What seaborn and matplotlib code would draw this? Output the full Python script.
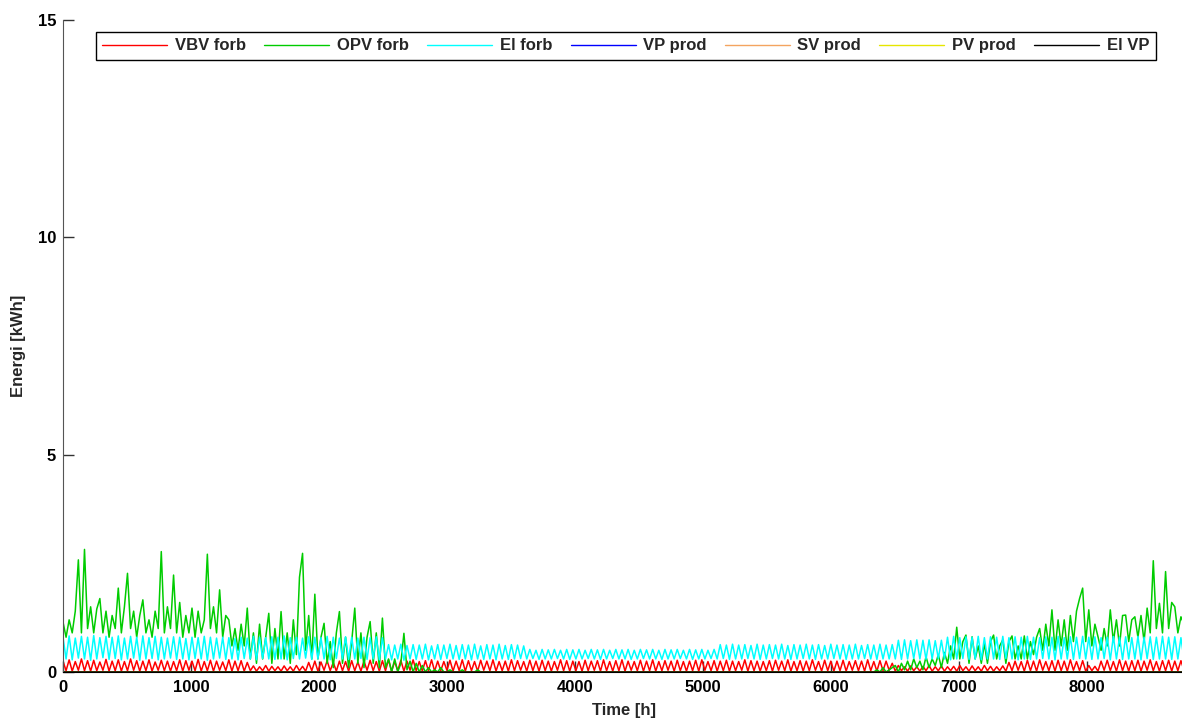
import numpy as np
import pandas as pd
import seaborn as sns
import matplotlib
matplotlib.use('Agg')
import matplotlib.pyplot as plt

# one reading per day (every 24 h)
hours = np.arange(0, 8761, 24)

# OPV forb (green) - heating
opv_forb = [
    1.15, 0.8, 1.2, 0.9, 1.4, 2.58, 0.9, 2.82, 1.0, 1.5, 0.9, 1.45,
    1.69, 0.9, 1.4, 0.8, 1.3, 1.0, 1.93, 0.9, 1.5, 2.27, 1.0, 1.4,
    0.8, 1.3, 1.66, 0.9, 1.2, 0.8, 1.4, 1.0, 2.77, 0.9, 1.5, 1.0,
    2.23, 0.9, 1.6, 0.8, 1.3, 0.9, 1.47, 0.8, 1.4, 0.9, 1.2, 2.71,
    1.0, 1.5, 0.9, 1.89, 0.8, 1.3, 1.2, 0.6, 1.0, 0.5, 1.1, 0.6,
    1.47, 0.3, 0.9, 0.2, 1.1, 0.3, 0.8, 1.35, 0.2, 1.0, 0.3, 1.39,
    0.3, 0.9, 0.2, 1.2, 0.4, 2.18, 2.73, 0.5, 1.3, 0.3, 1.79, 0.3,
    0.8, 1.12, 0.2, 0.7, 0.1, 0.9, 1.39, 0.2, 0.8, 0.1, 0.7, 1.47,
    0.2, 0.9, 0.1, 0.8, 1.16, 0.2, 0.9, 0.1, 1.24, 0.1, 0.3, 0.0,
    0.3, 0.0, 0.2, 0.89, 0.05, 0.25, 0.0, 0.2, 0.0, 0.15, 0.0, 0.1,
    # summer: heating off
    0.0, 0.05, 0.0, 0.1, 0.0, 0.0, 0.05, 0.0, 0.0, 0.0, 0.05, 0.0,
    0.0, 0.0, 0.0, 0.05, 0.0, 0.0, 0.0, 0.0, 0.0, 0.0, 0.0, 0.0,
    0.0, 0.0, 0.0, 0.0, 0.0, 0.0, 0.0, 0.0, 0.0, 0.0, 0.0, 0.0,
    0.0, 0.0, 0.0, 0.0, 0.0, 0.0, 0.0, 0.0, 0.0, 0.0, 0.0, 0.0,
    0.0, 0.0, 0.0, 0.0, 0.0, 0.0, 0.0, 0.0, 0.0, 0.0, 0.0, 0.0,
    0.0, 0.0, 0.0, 0.0, 0.0, 0.0, 0.0, 0.0, 0.0, 0.0, 0.0, 0.0,
    0.0, 0.0, 0.0, 0.0, 0.0, 0.0, 0.0, 0.0, 0.0, 0.0, 0.0, 0.0,
    0.0, 0.0, 0.0, 0.0, 0.0, 0.0, 0.0, 0.0, 0.0, 0.0, 0.0, 0.0,
    0.0, 0.0, 0.0, 0.0, 0.0, 0.0, 0.0, 0.0, 0.0, 0.0, 0.0, 0.0,
    0.0, 0.0, 0.0, 0.0, 0.0, 0.0, 0.0, 0.0, 0.0, 0.0, 0.0, 0.0,
    0.0, 0.0, 0.0, 0.0, 0.0, 0.0, 0.0, 0.0, 0.0, 0.0, 0.0, 0.0,
    0.0, 0.0, 0.0, 0.0, 0.0, 0.0, 0.0, 0.0, 0.0, 0.0, 0.0, 0.0,
    0.0, 0.05, 0.0, 0.1, 0.0, 0.05, 0.1,
    # autumn / early winter
    0.15, 0.0, 0.2, 0.05, 0.25,
    0.05, 0.3, 0.1, 0.25, 0.05, 0.35, 0.1, 0.3, 0.15, 0.4, 0.1, 0.45,
    0.2, 0.6, 0.3, 1.03, 0.3, 0.7, 0.85, 0.2, 0.81, 0.3, 0.6, 0.2,
    0.65, 0.2, 0.7, 0.85, 0.3, 0.6, 0.74, 0.2, 0.7, 0.83, 0.3, 0.6,
    0.3, 0.83, 0.3, 0.7, 0.4, 0.8, 1.0, 0.5, 1.1, 0.6, 1.43, 0.5,
    1.2, 0.6, 1.2, 0.5, 1.3, 0.7, 1.4, 1.69, 1.93, 0.7, 1.43, 0.6,
    1.1, 0.81, 0.5, 1.0, 0.6, 1.43, 0.7, 1.2, 0.6, 1.3, 1.31, 0.7,
    1.2, 1.27, 0.8, 1.3, 0.7, 1.47, 0.9, 2.56, 1.0, 1.58, 0.9, 2.31,
    1.0, 1.6, 1.5, 0.9, 1.27, 1.1,
]

# El forb (cyan)
el_forb = [
    0.8, 0.3, 0.83, 0.28, 0.78, 0.32, 0.82, 0.3, 0.8, 0.27, 0.84, 0.3,
    0.79, 0.33, 0.82, 0.29, 0.8, 0.31, 0.83, 0.28, 0.78, 0.3, 0.82, 0.32,
    0.8, 0.27, 0.83, 0.3, 0.79, 0.31, 0.82, 0.28, 0.8, 0.3, 0.78, 0.32,
    0.81, 0.29, 0.8, 0.3, 0.77, 0.28, 0.8, 0.31, 0.79, 0.3, 0.82, 0.27,
    0.8, 0.3, 0.78, 0.32, 0.8, 0.29, 0.79, 0.3, 0.77, 0.28, 0.8, 0.31,
    0.78, 0.3, 0.82, 0.28, 0.8, 0.31, 0.79, 0.3, 0.81, 0.29, 0.8, 0.3,
    0.83, 0.28, 0.79, 0.31, 0.8, 0.3, 0.78, 0.32, 0.81, 0.29, 0.8, 0.3,
    0.79, 0.3, 0.82, 0.28, 0.8, 0.31, 0.78, 0.3, 0.81, 0.29, 0.8, 0.3,
    0.78, 0.31, 0.8, 0.29, 0.79, 0.3, 0.81, 0.28, 0.79,
    0.3, 0.63, 0.28, 0.62, 0.3, 0.64, 0.27, 0.61, 0.3, 0.63, 0.29, 0.62,
    0.3, 0.64, 0.28, 0.6, 0.3, 0.63, 0.29, 0.62, 0.31, 0.64, 0.3, 0.61,
    0.29, 0.63, 0.3, 0.62, 0.28, 0.64, 0.3, 0.6, 0.29, 0.63, 0.3, 0.62,
    0.28, 0.64, 0.3, 0.61, 0.29, 0.63, 0.3, 0.62, 0.31, 0.6,
    0.3, 0.52, 0.31, 0.5, 0.29, 0.52, 0.3, 0.51, 0.3, 0.52, 0.31, 0.5,
    0.3, 0.52, 0.29, 0.51, 0.3, 0.52, 0.3, 0.5, 0.31, 0.52, 0.3, 0.51,
    0.29, 0.52, 0.3, 0.5, 0.31, 0.52, 0.3, 0.51, 0.3, 0.52, 0.29, 0.5,
    0.3, 0.52, 0.31, 0.51, 0.3, 0.52, 0.3, 0.5, 0.29, 0.52, 0.3, 0.51,
    0.3, 0.52, 0.31, 0.5, 0.3, 0.52, 0.29, 0.51, 0.3, 0.52, 0.3, 0.5,
    0.31, 0.52,
    0.3, 0.63, 0.31, 0.62, 0.29, 0.64, 0.3, 0.62, 0.3, 0.63, 0.31, 0.61,
    0.3, 0.64, 0.29, 0.62, 0.3, 0.63, 0.31, 0.62, 0.3, 0.64, 0.3, 0.61,
    0.29, 0.63, 0.3, 0.62, 0.31, 0.64, 0.3, 0.62, 0.29, 0.63, 0.3, 0.61,
    0.3, 0.64, 0.31, 0.62, 0.3, 0.63, 0.29, 0.62, 0.3, 0.64, 0.3, 0.61,
    0.31, 0.63, 0.3, 0.62, 0.29, 0.64, 0.3, 0.62, 0.3, 0.63,
    0.3, 0.73, 0.29, 0.74, 0.3, 0.72, 0.31, 0.74, 0.3, 0.73, 0.29, 0.74,
    0.3, 0.72, 0.31, 0.73, 0.3,
    0.8, 0.28, 0.82, 0.3, 0.79, 0.31, 0.81, 0.29, 0.8, 0.3, 0.82, 0.28,
    0.79, 0.3, 0.81, 0.3, 0.8, 0.29, 0.82, 0.31, 0.79, 0.3, 0.81, 0.28,
    0.8, 0.3, 0.82, 0.29, 0.8, 0.3, 0.79, 0.31, 0.81, 0.3, 0.8, 0.28,
    0.82, 0.3, 0.79, 0.3, 0.81, 0.29, 0.8, 0.31, 0.82, 0.3, 0.8, 0.29,
    0.81, 0.3, 0.79, 0.31, 0.8, 0.28, 0.82, 0.3, 0.8, 0.29, 0.81, 0.3,
    0.79, 0.3, 0.82, 0.28, 0.8, 0.31, 0.81, 0.29, 0.8, 0.3, 0.82, 0.3,
    0.8, 0.29, 0.81, 0.3, 0.79, 0.3,
]

# VBV forb (red) - hot water
vbv_forb = [
    0.25, 0.03, 0.28, 0.02, 0.24, 0.04, 0.3, 0.03, 0.26, 0.02, 0.27, 0.03,
    0.23, 0.04, 0.29, 0.02, 0.25, 0.03, 0.28, 0.02, 0.24, 0.03, 0.3, 0.04,
    0.26, 0.02, 0.25, 0.03, 0.28, 0.02, 0.23, 0.04, 0.27, 0.03, 0.25, 0.02,
    0.24, 0.03, 0.28, 0.02, 0.26, 0.04, 0.25, 0.03, 0.29, 0.02, 0.24, 0.03,
    0.27, 0.02, 0.25, 0.04, 0.23, 0.03, 0.28, 0.02, 0.25, 0.03, 0.26, 0.02,
    0.22, 0.03, 0.14, 0.02, 0.12, 0.03, 0.15, 0.02, 0.13, 0.03, 0.12, 0.02,
    0.14, 0.03, 0.12, 0.02, 0.15, 0.03, 0.13, 0.02, 0.22, 0.03, 0.25, 0.02,
    0.23, 0.04, 0.26, 0.03, 0.22, 0.02, 0.25, 0.03, 0.24, 0.02, 0.26, 0.03,
    0.23, 0.02, 0.25, 0.04, 0.27, 0.03, 0.24, 0.02, 0.26, 0.03, 0.28, 0.02,
    0.24, 0.03, 0.27, 0.02, 0.25, 0.04, 0.28, 0.03, 0.24, 0.02, 0.26, 0.03,
    0.28, 0.02, 0.25, 0.03, 0.24, 0.04, 0.27, 0.02, 0.25, 0.03, 0.28, 0.02,
    0.26, 0.03, 0.24, 0.02, 0.27, 0.04, 0.25, 0.03, 0.28, 0.02, 0.24, 0.03,
    0.25, 0.02, 0.28, 0.03, 0.26, 0.04, 0.24, 0.02, 0.27, 0.03, 0.25, 0.02,
    0.27, 0.03, 0.25, 0.02, 0.24, 0.04, 0.28, 0.03, 0.26, 0.02, 0.25, 0.03,
    0.24, 0.02, 0.27, 0.03, 0.25, 0.04, 0.26, 0.02, 0.28, 0.03, 0.24, 0.02,
    0.26, 0.03, 0.28, 0.02, 0.25, 0.04, 0.24, 0.03, 0.27, 0.02, 0.25, 0.03,
    0.28, 0.02, 0.24, 0.03, 0.26, 0.04, 0.25, 0.02, 0.27, 0.03, 0.24, 0.02,
    0.25, 0.03, 0.27, 0.02, 0.28, 0.04, 0.24, 0.03, 0.26, 0.02, 0.25, 0.03,
    0.27, 0.02, 0.25, 0.03, 0.24, 0.04, 0.28, 0.02, 0.26, 0.03, 0.25, 0.02,
    0.24, 0.03, 0.26, 0.02, 0.27, 0.04, 0.25, 0.03, 0.28, 0.02, 0.24, 0.03,
    0.26, 0.02, 0.25, 0.03, 0.28, 0.04, 0.24, 0.02, 0.27, 0.03, 0.25, 0.02,
    0.25, 0.03, 0.27, 0.02, 0.24, 0.04, 0.26, 0.03, 0.25, 0.02, 0.28, 0.03,
    0.24, 0.02, 0.26, 0.03, 0.25, 0.04, 0.2, 0.02, 0.15, 0.03, 0.12, 0.02,
    0.14, 0.03, 0.12, 0.02, 0.13, 0.03, 0.15, 0.02, 0.12, 0.03, 0.14, 0.02,
    0.12, 0.03, 0.13, 0.02, 0.15, 0.03, 0.12, 0.02, 0.14, 0.03, 0.12, 0.02,
    0.15, 0.03, 0.13, 0.02, 0.12, 0.03, 0.14, 0.02, 0.22, 0.03, 0.25, 0.04,
    0.24, 0.02, 0.27, 0.03, 0.25, 0.02, 0.28, 0.04, 0.24, 0.03, 0.26, 0.02,
    0.27, 0.03, 0.25, 0.02, 0.28, 0.04, 0.24, 0.03, 0.26, 0.02, 0.15, 0.03,
    0.13, 0.02, 0.25, 0.04, 0.27, 0.03, 0.24, 0.02, 0.28, 0.03, 0.25, 0.02,
    0.26, 0.03, 0.27, 0.02, 0.25, 0.04, 0.28, 0.03, 0.24, 0.02, 0.26, 0.03,
    0.27, 0.02, 0.25, 0.03, 0.26, 0.04,
]

# production series sit flat on zero in the picture
vp_prod = [0.0] * len(hours)
sv_prod = [0.0] * len(hours)
pv_prod = [0.0] * len(hours)
el_vp = [0.0] * len(hours)

navne = ['VBV forb', 'OPV forb', 'El forb', 'VP prod', 'SV prod', 'PV prod', 'El VP']
farver = ['#ff0000', '#00cc00', '#00ffff', '#0000ff', '#f4a460', '#e6e600', '#000000']
data = [vbv_forb, opv_forb, el_forb, vp_prod, sv_prod, pv_prod, el_vp]

sns.set_style('ticks')
plt.rcParams['font.family'] = ['Liberation Sans', 'DejaVu Sans']
plt.rcParams['font.weight'] = 'bold'

fig = plt.figure(figsize=(11.82, 7.22), dpi=100)
ax = fig.add_axes([63 / 1182, 50 / 722, 1121 / 1182, 652 / 722])

for navn, vals, farve in zip(navne, data, farver):
    sns.lineplot(x=hours, y=vals, color=farve, lw=1.1, label=navn, ax=ax,
                 estimator=None, sort=False)

ax.set_xlim(0, 8760)
ax.set_ylim(0, 15)
ax.set_xticks(range(0, 8001, 1000))
ax.set_yticks([0, 5, 10, 15])
ax.tick_params(direction='in', length=8, width=1, labelsize=12, colors='#333333')
ax.tick_params(axis='x', pad=6, labelcolor='black')
ax.tick_params(axis='y', pad=5, labelcolor='black')
for lab in ax.get_xticklabels() + ax.get_yticklabels():
    lab.set_fontweight('bold')

sns.despine(ax=ax)
ax.spines['left'].set_color('#555555')
ax.spines['bottom'].set_color('black')

ax.set_xlabel('Time [h]', fontsize=12, fontweight='bold')
ax.set_ylabel('Energi [kWh]', fontsize=12, fontweight='bold')
ax.xaxis.set_label_coords(0.5, -0.047)
ax.yaxis.set_label_coords(-0.033, 0.5)

leg = ax.legend(loc='upper center', bbox_to_anchor=(0.502, 0.982), ncol=7,
                frameon=True, fancybox=False, framealpha=1, edgecolor='black',
                prop={'weight': 'bold', 'size': 12}, handlelength=3.9,
                handletextpad=0.45, columnspacing=1.1, borderpad=0.4,
                borderaxespad=0)
leg.get_frame().set_linewidth(1.0)
for h in leg.get_lines():
    h.set_linewidth(1.0)

fig.savefig('out.png', dpi=100)
